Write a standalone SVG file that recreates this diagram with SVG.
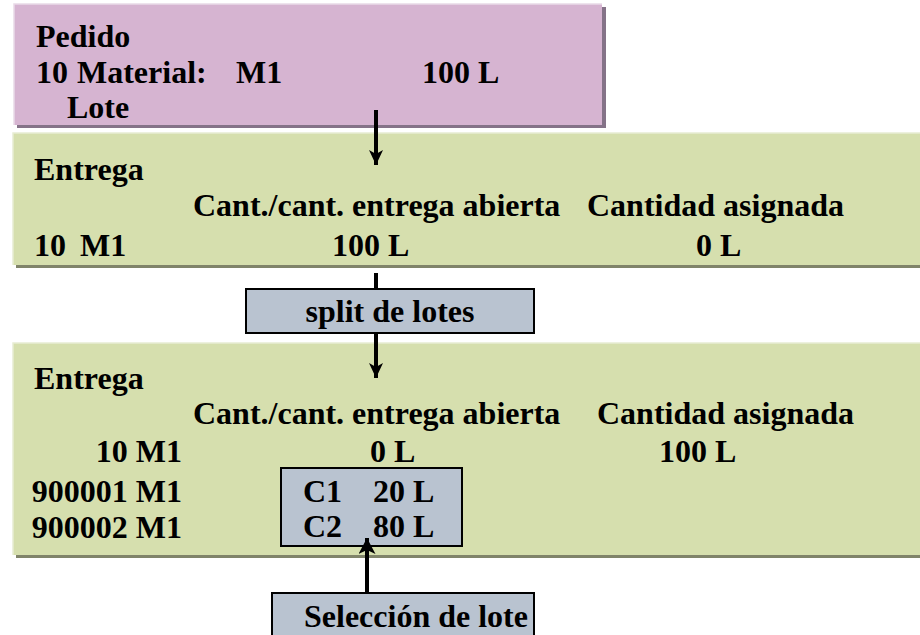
<svg xmlns="http://www.w3.org/2000/svg" width="920" height="635" viewBox="0 0 920 635">
<defs>
<style>
.pink{fill:#D6B4D1}
.pinksh{fill:#857388}
.green{fill:#D6DFAE}
.greensh{fill:#80846A}
.gbox{fill:#B9C3D0;stroke:#000;stroke-width:2}
.ln{stroke:#000;stroke-width:4;fill:none}
text{font-family:'Liberation Serif','Times New Roman',serif;font-weight:700;font-size:32px;fill:#000}
</style>
<marker id="ah" markerWidth="15" markerHeight="14" refX="15" refY="7" orient="auto" markerUnits="userSpaceOnUse" viewBox="0 0 15 14">
<path d="M0,0 L15,7 L0,14 L4,7 Z" fill="#000"/>
</marker>
<marker id="ah2" markerWidth="16" markerHeight="17" refX="16" refY="8.5" orient="auto" markerUnits="userSpaceOnUse" viewBox="0 0 16 17">
<path d="M0,0 L16,8.5 L0,17 L4,8.5 Z" fill="#000"/>
</marker>
</defs>
<rect width="920" height="635" fill="#fff"/>

<g id="pedido">
<rect class="pinksh" x="17" y="7" width="589" height="121"/>
<rect class="pink" x="14" y="4" width="588" height="121"/>
<path d="M14,125 V4 H602" stroke="#E9DAE7" stroke-width="1.5" fill="none"/>
<text x="36" y="47">Pedido</text>
<text x="36" y="83">10</text>
<text x="77" y="83">Material:</text>
<text x="236" y="83">M1</text>
<text x="422" y="83">100 L</text>
<text x="67" y="118">Lote</text>
</g>

<g id="entrega1">
<rect class="greensh" x="16" y="136" width="910" height="132"/>
<rect class="green" x="13" y="133" width="910" height="132"/>
<path d="M13,265 V133 H920" stroke="#E8EDD3" stroke-width="1.5" fill="none"/>
<text x="34" y="180">Entrega</text>
<text x="193" y="216">Cant./cant. entrega abierta</text>
<text x="587" y="216">Cantidad asignada</text>
<text x="34" y="256">10</text>
<text x="80" y="256">M1</text>
<text x="332" y="256">100 L</text>
<text x="696" y="256">0 L</text>
</g>

<g id="split">
<rect class="gbox" x="246" y="289" width="288" height="44"/>
<text x="390" y="322" text-anchor="middle">split de lotes</text>
</g>

<g id="entrega2">
<rect class="greensh" x="16" y="346" width="910" height="212"/>
<rect class="green" x="13" y="343" width="910" height="212"/>
<path d="M13,555 V343 H920" stroke="#E8EDD3" stroke-width="1.5" fill="none"/>
<text x="34" y="389">Entrega</text>
<text x="193" y="424">Cant./cant. entrega abierta</text>
<text x="597" y="424">Cantidad asignada</text>
<text x="182" y="462" text-anchor="end">10 M1</text>
<text x="370" y="462">0 L</text>
<text x="659" y="462">100 L</text>
<text x="182" y="502" text-anchor="end">900001 M1</text>
<text x="182" y="538" text-anchor="end">900002 M1</text>
</g>

<g id="lotes">
<rect class="gbox" x="281" y="468" width="181" height="78"/>
<text x="303" y="502">C1</text>
<text x="373" y="502">20 L</text>
<text x="303" y="537">C2</text>
<text x="373" y="537">80 L</text>
</g>

<g id="seleccion">
<rect class="gbox" x="272" y="593" width="262" height="50"/>
<text x="304" y="627">Selección de lote</text>
</g>

<g id="connectors">
<line class="ln" x1="376" y1="110" x2="376" y2="165" marker-end="url(#ah)"/>
<line class="ln" x1="376" y1="273" x2="376" y2="289"/>
<line class="ln" x1="376" y1="333" x2="376" y2="378" marker-end="url(#ah)"/>
<line class="ln" x1="367" y1="593" x2="367" y2="538" stroke-width="5" marker-end="url(#ah2)"/>
</g>
</svg>
